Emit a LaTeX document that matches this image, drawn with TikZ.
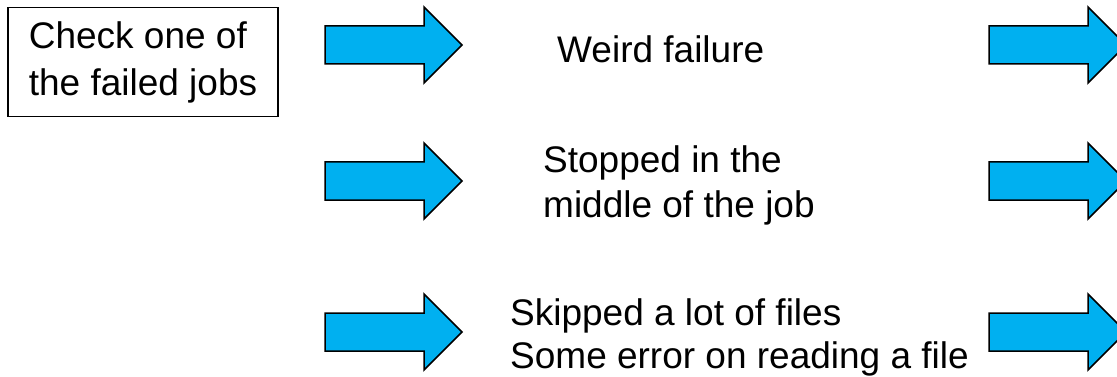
\documentclass[tikz,border=0pt]{standalone}
\usepackage{fontspec}
\setmainfont{Liberation Sans}
\definecolor{arrowblue}{HTML}{00B0F0}
\begin{document}
\begin{tikzpicture}[x=1pt,y=-1pt,
  txt/.style={anchor=base west, inner sep=0pt, font=\fontsize{37}{47}\selectfont},
  bluearrow/.pic={\draw[line width=1.5pt, fill=arrowblue, line join=miter]
     (0,-19) -- (99,-19) -- (99,-38) -- (137,0) -- (99,38) -- (99,19) -- (0,19) -- cycle;}]
\useasboundingbox (0,0) rectangle (1117,377);
\clip (0,0) rectangle (1117,377);
\node[draw, line width=1.5pt, minimum width=270pt, minimum height=109pt, align=left,
  inner sep=0pt, font=\fontsize{37}{47}\selectfont] (check) at (143,62) {Check one of\\the failed jobs};
\pic at (325,45) {bluearrow};
\pic at (325,181) {bluearrow};
\pic at (325,332) {bluearrow};
\pic at (989,45) {bluearrow};
\pic at (989,181) {bluearrow};
\pic at (989,332) {bluearrow};
\node[txt] (w) at (557,63) {Weird failure};
\node[txt] (s1) at (543,173) {Stopped in the};
\node[txt] (s2) at (543,218) {middle of the job};
\node[txt] (k1) at (510,325) {Skipped a lot of files};
\node[txt] (k2) at (510,368) {Some error on reading a file};
\end{tikzpicture}
\end{document}
